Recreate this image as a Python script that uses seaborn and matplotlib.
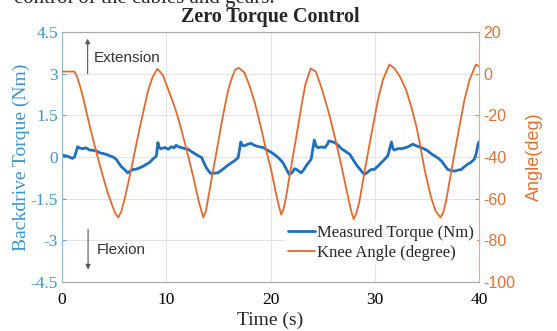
import matplotlib
matplotlib.use("Agg")
import matplotlib.pyplot as plt
import pandas as pd
import seaborn as sns

# ---- measured torque (Nm) vs time (s) ----
torque_time = [
    0.0, 0.1, 0.5, 1.0, 1.2, 1.5, 1.7, 2.0, 2.3, 2.65,
    3.0, 3.3, 3.6, 3.9, 4.2, 4.6, 4.9, 5.2, 5.5, 5.7,
    6.0, 6.3, 6.5, 6.8, 7.1, 7.45, 7.8, 8.1, 8.4, 8.7,
    9.05, 9.2, 9.35, 9.5, 9.85, 10.2, 10.5, 10.75, 10.95, 11.2,
    11.45, 11.8, 12.1, 12.4, 12.7, 13.0, 13.4, 13.6, 13.85, 14.1,
    14.3, 14.6, 14.95, 15.3, 15.6, 15.9, 16.25, 16.6, 16.9, 17.15,
    17.3, 17.5, 17.8, 18.15, 18.4, 18.6, 19.0, 19.3, 19.7, 20.1,
    20.55, 20.9, 21.2, 21.5, 21.8, 22.1, 22.3, 22.5, 22.75, 22.95,
    23.2, 23.4, 23.65, 23.9, 24.2, 24.4, 24.55, 24.9, 25.2, 25.45,
    25.6, 25.9, 26.15, 26.5, 26.8, 27.2, 27.6, 27.9, 28.2, 28.6,
    29.0, 29.3, 29.65, 29.95, 30.3, 30.6, 30.9, 31.25, 31.6, 31.75,
    31.9, 32.2, 32.55, 32.9, 33.2, 33.65, 34.0, 34.45, 34.8, 35.1,
    35.4, 35.75, 36.1, 36.4, 36.7, 37.0, 37.3, 37.65, 38.0, 38.3,
    38.6, 38.9, 39.2, 39.55, 39.75, 39.9, 40.0,
]
torque_nm = [
    0.08, 0.06, 0.03, -0.05, 0.00, 0.37, 0.32, 0.30, 0.33, 0.25,
    0.24, 0.22, 0.15, 0.13, 0.10, 0.04, 0.00, -0.08, -0.25, -0.35,
    -0.45, -0.57, -0.52, -0.45, -0.44, -0.39, -0.33, -0.26, -0.20, -0.08,
    0.04, 0.52, 0.32, 0.30, 0.34, 0.28, 0.37, 0.33, 0.42, 0.36,
    0.34, 0.30, 0.28, 0.20, 0.13, 0.06, -0.02, -0.20, -0.39, -0.52,
    -0.60, -0.58, -0.57, -0.48, -0.39, -0.30, -0.21, -0.12, -0.02, 0.54,
    0.42, 0.40, 0.46, 0.49, 0.43, 0.40, 0.36, 0.34, 0.25, 0.16,
    0.04, -0.08, -0.21, -0.42, -0.63, -0.55, -0.42, -0.45, -0.52, -0.57,
    -0.45, -0.33, -0.20, -0.08, 0.61, 0.38, 0.34, 0.36, 0.34, 0.45,
    0.58, 0.55, 0.52, 0.42, 0.30, 0.20, 0.10, -0.08, -0.26, -0.45,
    -0.63, -0.55, -0.45, -0.45, -0.33, -0.21, -0.10, 0.04, 0.54, 0.30,
    0.25, 0.30, 0.30, 0.33, 0.37, 0.46, 0.40, 0.34, 0.28, 0.22,
    0.12, 0.04, -0.05, -0.14, -0.30, -0.45, -0.48, -0.51, -0.47, -0.45,
    -0.35, -0.26, -0.20, -0.08, 0.15, 0.46, 0.55,
]

# ---- knee angle (degree) vs time (s) ----
angle_time = [
    0.0, 0.6, 1.19, 1.45, 1.73, 2.05, 2.37, 2.75, 3.16, 3.55,
    3.97, 4.37, 4.77, 5.1, 5.4, 5.7, 6.04, 6.35, 6.68, 7.08,
    7.48, 7.88, 8.28, 8.7, 9.15, 9.65, 10.2, 10.6, 11.0, 11.4,
    11.8, 12.2, 12.6, 13.1, 13.55, 13.8, 14.04, 14.35, 14.67, 15.0,
    15.3, 15.63, 15.95, 16.3, 16.6, 16.97, 17.5, 18.0, 18.5, 19.0,
    19.5, 20.08, 20.5, 20.8, 21.03, 21.25, 21.5, 21.9, 22.45, 22.95,
    23.35, 23.85, 24.35, 24.84, 25.2, 25.58, 25.95, 26.32, 26.7, 27.06,
    27.56, 27.8, 27.97, 28.2, 28.52, 29.03, 29.68, 30.3, 30.78, 31.4,
    31.9, 32.4, 33.0, 33.5, 34.0, 34.3, 34.8, 35.4, 35.85, 36.3,
    36.55, 36.85, 37.35, 38.0, 38.6, 39.1, 39.7, 40.0,
]
angle_deg = [
    1, 1, 1, -1.5, -6, -12, -19, -27, -35, -42.5,
    -50, -57, -62.6, -67, -69, -66, -59.4, -52.5, -44.9, -35,
    -25.5, -16.5, -7.7, -1.5, 2.3, -0.5, -7.7, -13, -19, -26,
    -33.6, -41.5, -49.7, -61, -69, -66, -59.4, -50.5, -41.6, -32.5,
    -23.9, -15.5, -7.7, -2, 1.9, 2.8, 0.5, -6, -14, -24,
    -35, -46.5, -57, -63.5, -67.7, -65, -59, -47, -31, -16,
    -5, 2.5, 1, -6, -12, -18.5, -26, -33.6, -42, -50.3,
    -62, -67, -69.8, -67.5, -61.6, -46.8, -29, -12.7, -3, 4.4,
    2.5, -1.3, -7.7, -15.8, -25.5, -33, -46.5, -59.4, -66, -69,
    -67, -61, -46.5, -28.7, -12.6, -2.9, 4.4, 3.5,
]

# ---- axis ticks ----
time_ticks = [0, 10, 20, 30, 40]
time_tick_labels = ["0", "10", "20", "30", "40"]
torque_ticks = [-4.5, -3, -1.5, 0, 1.5, 3, 4.5]
torque_tick_labels = ["-4.5", "-3", "-1.5", "0", "1.5", "3", "4.5"]
angle_ticks = [-100, -80, -60, -40, -20, 0, 20]
angle_tick_labels = ["-100", "-80", "-60", "-40", "-20", "0", "20"]

series_labels = ["Measured Torque (Nm)", "Knee Angle (degree)"]

BLUE_LINE = "#1f6fbd"
ORANGE_LINE = "#e36a2e"
BLUE_TEXT = "#3d93d3"
ORANGE_TEXT = "#e5702f"
SERIF = ["Liberation Serif", "DejaVu Serif"]
SANS = ["Liberation Sans", "DejaVu Sans"]

sns.set_style("white")
plt.rcParams["font.family"] = SERIF

torque_df = pd.DataFrame({"time": torque_time, "torque": torque_nm})
angle_df = pd.DataFrame({"time": angle_time, "angle": angle_deg})

fig = plt.figure(figsize=(5.57, 3.31), dpi=100)
W, H = 557, 331
ax = fig.add_axes([62 / W, 1 - 282 / H, 417 / W, 250 / H])
ax2 = ax.twinx()

sns.lineplot(data=torque_df, x="time", y="torque", ax=ax, color=BLUE_LINE,
             linewidth=2.0, estimator=None, sort=False, legend=False)
sns.lineplot(data=angle_df, x="time", y="angle", ax=ax2, color=ORANGE_LINE,
             linewidth=1.3, estimator=None, sort=False, legend=False)

ax.set_xlim(0, 40)
ax.set_ylim(-4.5, 4.5)
ax2.set_ylim(-100, 20)

ax.set_xticks(time_ticks, time_tick_labels, fontsize=12.5, color="black")
ax.set_yticks(torque_ticks, torque_tick_labels, fontsize=12.5, color=BLUE_TEXT)
ax2.set_yticks(angle_ticks, angle_tick_labels, fontsize=11.5,
               color=ORANGE_TEXT, fontfamily=SANS)

ax.tick_params(axis="x", direction="in", length=3, width=0.6, pad=7,
               color="#888888")
ax.tick_params(axis="y", direction="in", length=3, width=0.6, pad=3,
               color=BLUE_TEXT)
ax2.tick_params(axis="y", direction="in", length=3, width=0.6, pad=3,
                color=ORANGE_TEXT)

ax.grid(True, color="#e4e4e4", linewidth=0.8)
ax2.grid(False)

for name in ("top", "bottom"):
    ax.spines[name].set_color("#aaaaaa")
    ax2.spines[name].set_color("#aaaaaa")
ax.spines["left"].set_color("#8fb9dd")
ax.spines["right"].set_visible(False)
ax2.spines["left"].set_visible(False)
ax2.spines["right"].set_color("#e9a98a")
for sp in list(ax.spines.values()) + list(ax2.spines.values()):
    sp.set_linewidth(0.8)

ax.set_xlabel("Time (s)", fontsize=14, labelpad=3)
ax.set_ylabel("Backdrive Torque (Nm)", fontsize=14, color=BLUE_TEXT,
              labelpad=0)
ax2.set_ylabel("Angle(deg)", fontsize=13, color=ORANGE_TEXT,
               fontfamily=SANS, labelpad=8)
ax.set_title("Zero Torque Control", fontsize=14.5, fontweight="bold", pad=7)

# direction hints
arrow_style = dict(arrowstyle="-|>", color="#555555", lw=0.8,
                   mutation_scale=7, shrinkA=0, shrinkB=0)
ax.annotate("", xy=(2.46, 4.26), xytext=(2.46, 3.0), arrowprops=arrow_style)
ax.text(3.0, 3.58, "Extension", fontfamily=SANS, fontsize=11,
        color="#333333", va="center")
ax.annotate("", xy=(2.5, -4.05), xytext=(2.5, -2.6), arrowprops=arrow_style)
ax.text(3.3, -3.36, "Flexion", fontfamily=SANS, fontsize=11,
        color="#333333", va="center")

handles = [ax.lines[0], ax2.lines[0]]
leg = ax2.legend(handles, series_labels, loc="lower right",
                 bbox_to_anchor=(0.995, 0.07), borderaxespad=0,
                 frameon=True, framealpha=1, edgecolor="none",
                 prop={"family": SERIF, "size": 12}, handlelength=1.6,
                 handletextpad=0.1, borderpad=0.2, labelspacing=0.25)

fig.text(275 / W, 1 - 3 / H, "control of the cables and gears.",
         ha="right", va="baseline", fontsize=15, fontfamily=SERIF)

fig.savefig("out.png", dpi=100)
